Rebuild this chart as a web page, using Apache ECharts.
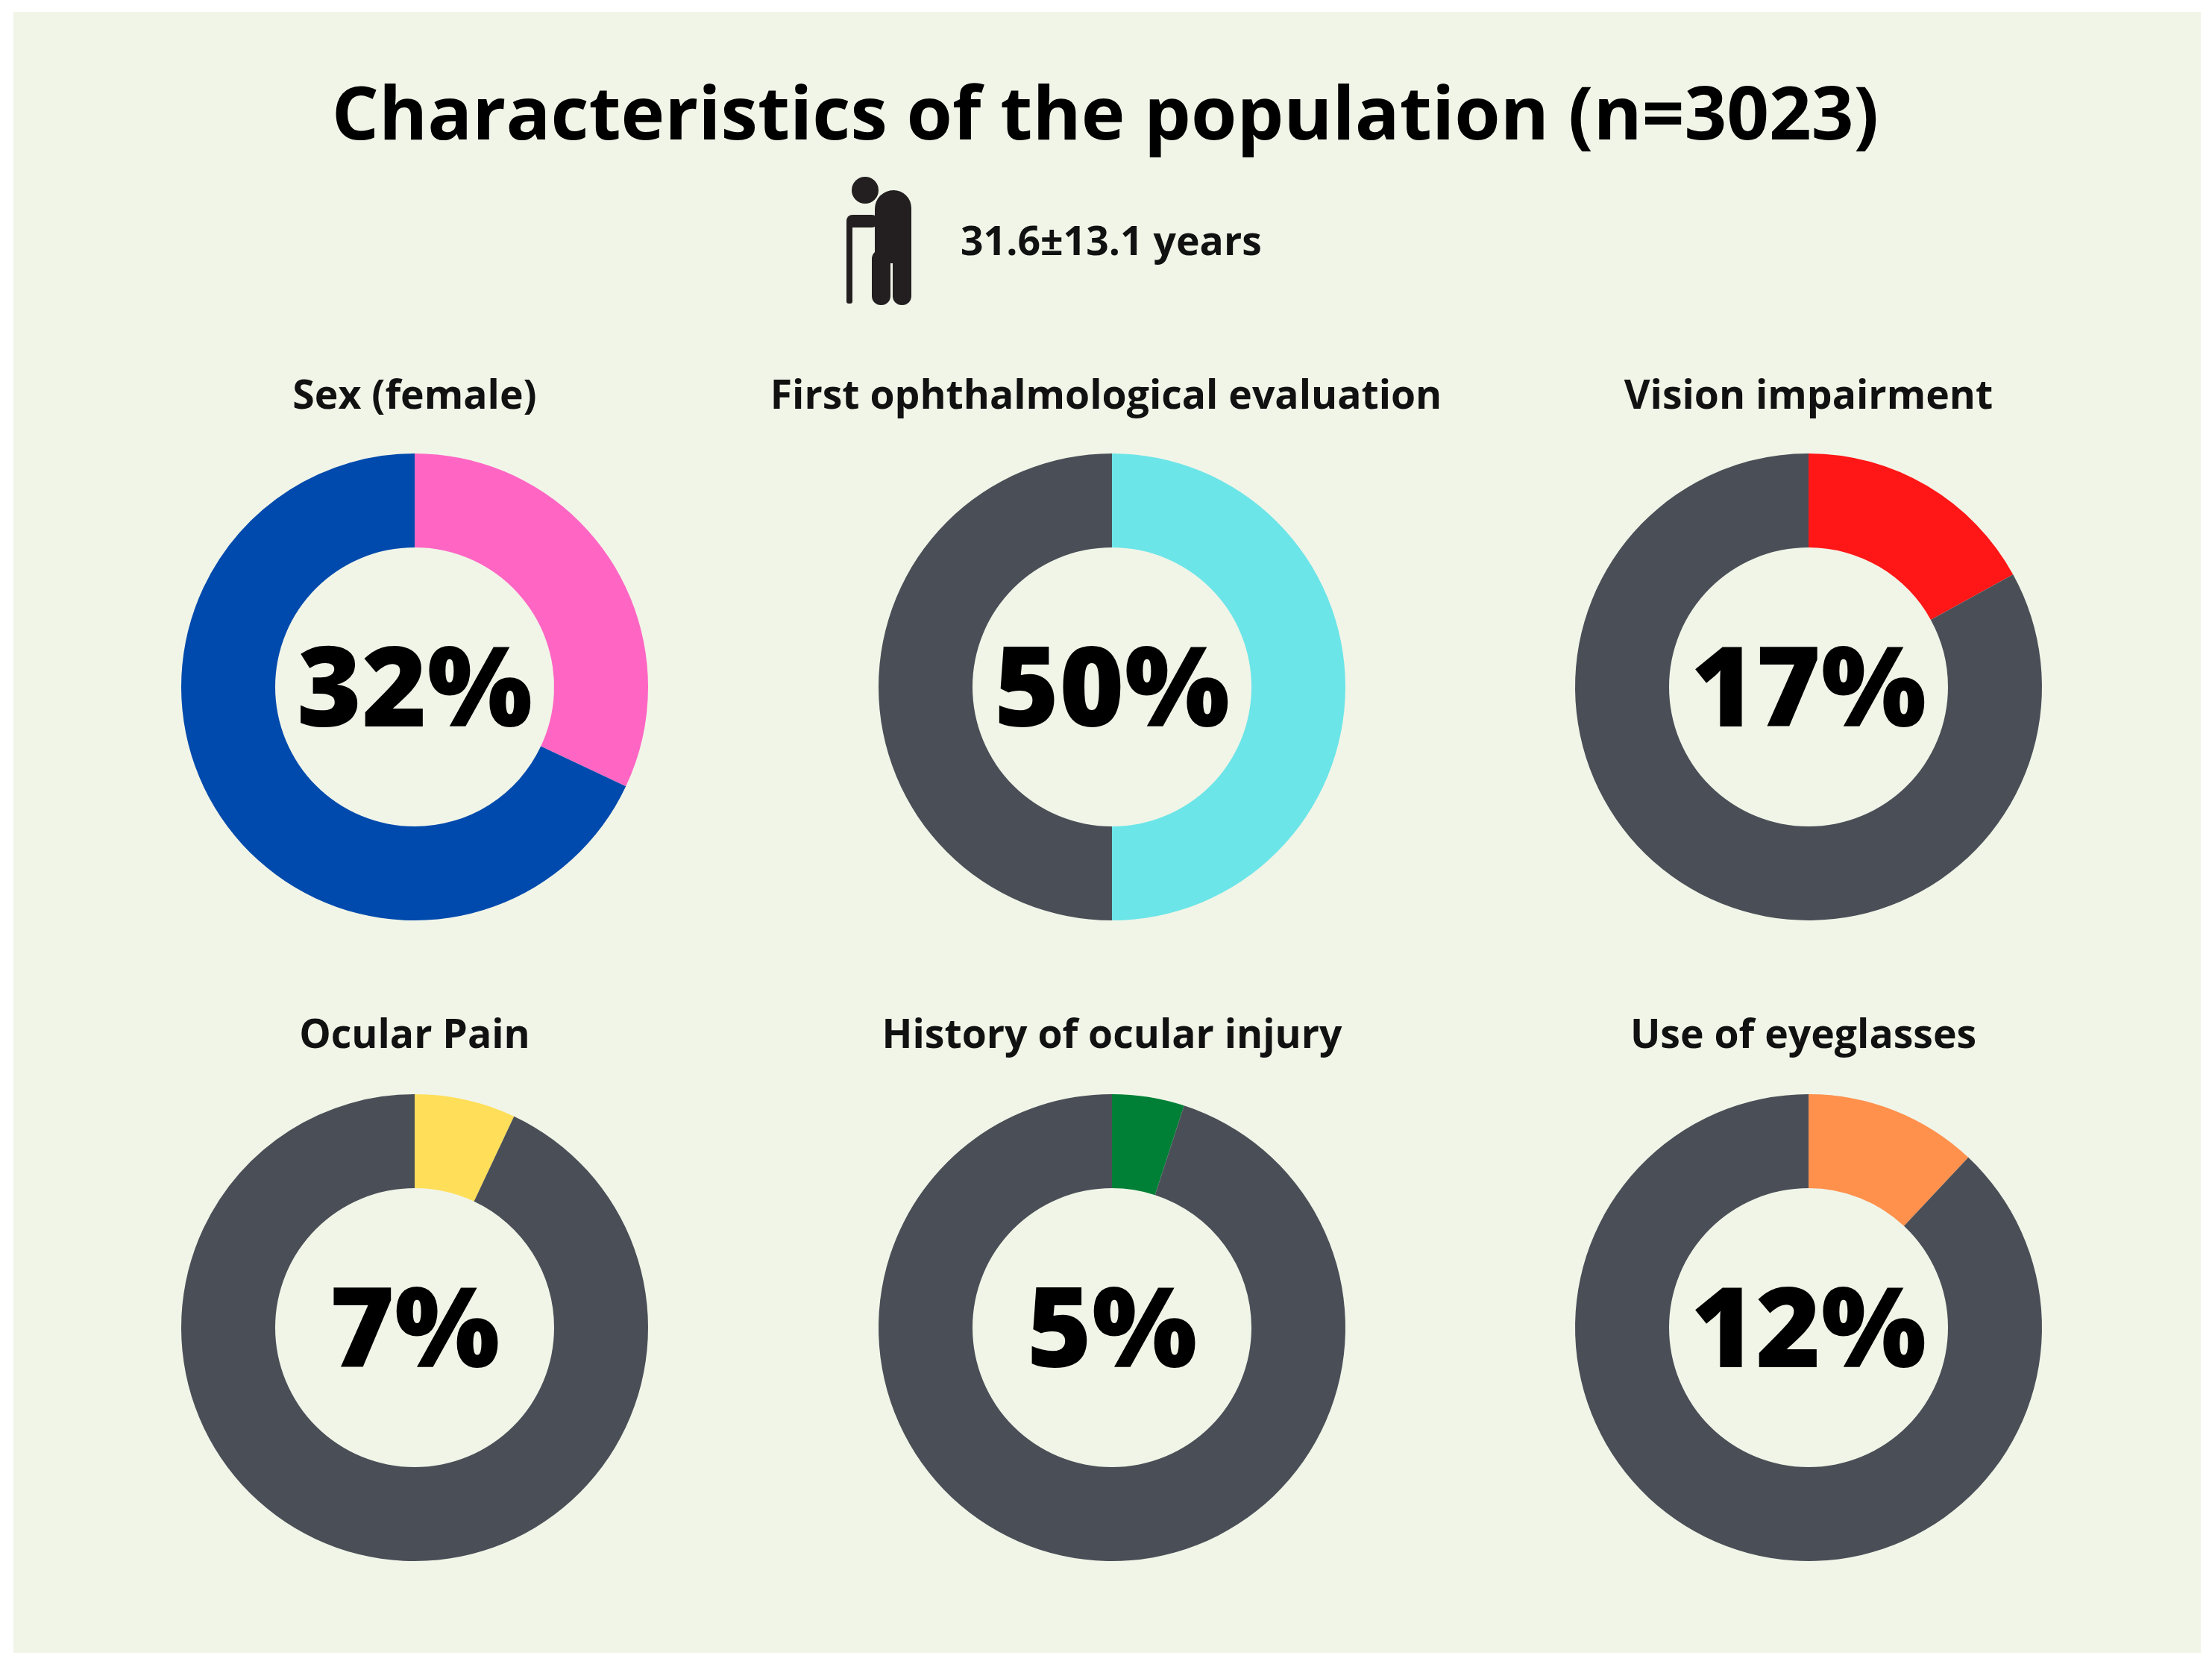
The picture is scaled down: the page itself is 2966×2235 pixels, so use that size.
<!DOCTYPE html>
<html>
<head>
<meta charset="utf-8">
<style>
  html, body { margin: 0; padding: 0; background: #ffffff; }
  #chart { width: 2966px; height: 2235px; }
</style>
<script src="https://cdn.jsdelivr.net/npm/echarts@6/dist/echarts.min.js"></script>
</head>
<body>
<div id="chart"></div>
<script>
var categories = ["Sex (female)", "First ophthalmological evaluation", "Vision impairment", "Ocular Pain", "History of ocular injury", "Use of eyeglasses"];
var percentValues = [32, 50, 17, 7, 5, 12];
var restValues = [68, 50, 83, 93, 95, 88];
var sliceColors = ["#ff66c4", "#6ce5e8", "#ff1616", "#ffde59", "#008037", "#ff914d"];
var restColors = ["#004aad", "#4a4f57", "#4a4f57", "#4a4f57", "#4a4f57", "#4a4f57"];
var mainTitle = "Characteristics of the population (n=3023)";
var ageText = "31.6±13.1 years";

var font = '"Open Sans"';
var centerX = [556, 1491, 2425];
var centerY = [921, 1780];
var labelX = [556, 1483, 2425, 556, 1491, 2418];
var labelY = [533, 1390];
var iconColor = "#231f20";

var titles = [
  { text: mainTitle, left: 1482, top: 159, padding: 0, textAlign: "center", textVerticalAlign: "middle",
    textStyle: { fontFamily: font, fontWeight: 700, fontSize: 99.3, color: "#000000" } },
  { text: ageText, left: 1288, top: 327, padding: 0, textAlign: "left", textVerticalAlign: "middle",
    textStyle: { fontFamily: font, fontWeight: 700, fontSize: 53.5, color: "#111111" } }
];
var series = [];

for (let i = 0; i < categories.length; i++) {
  titles.push({
    text: categories[i],
    left: labelX[i],
    top: labelY[i < 3 ? 0 : 1],
    padding: 0,
    textAlign: "center",
    textVerticalAlign: "middle",
    textStyle: { fontFamily: font, fontWeight: 700, fontSize: 53.5, color: "#111111" },
  });
  series.push({
    type: "pie",
    center: [centerX[i % 3], centerY[i < 3 ? 0 : 1]],
    radius: [187, 313],
    startAngle: 90,
    clockwise: true,
    silent: true,
    animation: false,
    itemStyle: { borderWidth: 0 },
    labelLine: { show: false },
    label: {
      show: true,
      position: "center",
      formatter: percentValues[i] + "%",
      offset: [0, 11],
      fontFamily: font,
      fontWeight: 800,
      fontSize: 149,
      color: "#000000",
    },
    emphasis: { disabled: true },
    data: [
      { value: percentValues[i], name: categories[i], itemStyle: { color: sliceColors[i] } },
      { value: restValues[i], name: "Other", itemStyle: { color: restColors[i] }, label: { show: false } },
    ],
  });
}

var myChart = echarts.init(document.getElementById("chart"));
var option = {
  backgroundColor: "#ffffff",
  animation: false,
  title: titles,
  // background panel and the elderly person icon
  graphic: [
    { type: "rect", z: -10, silent: true, shape: { x: 18, y: 16, width: 2933, height: 2200 }, style: { fill: "#f1f5e8" } },
    { type: "circle", silent: true, shape: { cx: 1160, cy: 255, r: 18 }, style: { fill: iconColor } },
    { type: "rect", silent: true, shape: { x: 1135, y: 296, width: 8, height: 111, r: 3 }, style: { fill: iconColor } },
    { type: "rect", silent: true, shape: { x: 1135, y: 288, width: 42, height: 17, r: 8 }, style: { fill: iconColor } },
    { type: "rect", silent: true, shape: { x: 1173, y: 255, width: 49, height: 98, r: [25, 24, 0, 0] }, style: { fill: iconColor } },
    { type: "rect", silent: true, shape: { x: 1169, y: 335, width: 25, height: 74, r: 12 }, style: { fill: iconColor } },
    { type: "rect", silent: true, shape: { x: 1197, y: 335, width: 25, height: 74, r: 12 }, style: { fill: iconColor } },
  ],
  series: series,
};
myChart.setOption(option);
</script>
</body>
</html>
